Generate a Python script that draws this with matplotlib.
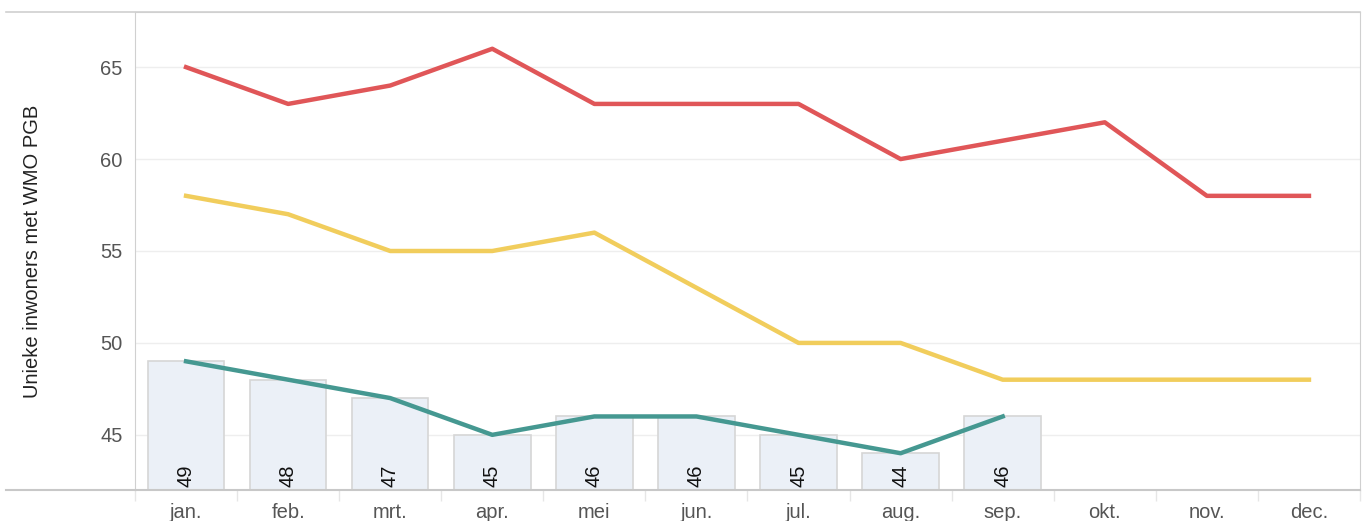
import numpy as np
import matplotlib.pyplot as plt
from matplotlib.lines import Line2D

plt.rcParams['font.family'] = ['Liberation Sans', 'DejaVu Sans']

months = ['jan.', 'feb.', 'mrt.', 'apr.', 'mei', 'jun.', 'jul.', 'aug.', 'sep.', 'okt.', 'nov.', 'dec.']
red_vals = [65, 63, 64, 66, 63, 63, 63, 60, 61, 62, 58, 58]
yellow_vals = [58, 57, 55, 55, 56, 53, 50, 50, 48, 48, 48, 48]
teal_vals = [49, 48, 47, 45, 46, 46, 45, 44, 46]
bar_vals = [49, 48, 47, 45, 46, 46, 45, 44, 46]
yticks = [45, 50, 55, 60, 65]

fig = plt.figure(figsize=(13.65, 5.21), dpi=100)
ax = fig.add_axes([135 / 1365, 1 - 490 / 521, 1225 / 1365, 478 / 521])

x = np.arange(len(months))
xb = np.arange(len(bar_vals))
ax.bar(xb, bar_vals, width=0.75, color='#ebf0f7', edgecolor='#d6d6d6', linewidth=1.2, zorder=2)
for xi, v in zip(xb, bar_vals):
    ax.text(xi, 42.15, str(v), rotation=90, ha='center', va='bottom', fontsize=14.5, color='#111111', zorder=5)

ax.plot(x, red_vals, color='#e05658', lw=3.2, solid_joinstyle='round', zorder=3)
ax.plot(x, yellow_vals, color='#f1cd5c', lw=3.2, solid_joinstyle='round', zorder=3)
ax.plot(xb, teal_vals, color='#459891', lw=3.2, solid_joinstyle='round', zorder=4)

ax.set_xlim(-0.5, 11.5)
ax.set_ylim(42, 68)
ax.set_yticks(yticks)
ax.set_xticks(x)
ax.set_xticklabels(months)
ax.set_xticks(np.arange(-0.5, 12, 1), minor=True)
ax.tick_params(axis='x', which='major', length=0, pad=9, labelsize=14.5, labelcolor='#555555')
ax.tick_params(axis='x', which='minor', length=8, color='#e6e6e6', width=1)
ax.tick_params(axis='y', length=0, pad=9, labelsize=14.5, labelcolor='#555555')
ax.grid(axis='y', color='#eeeeee', lw=1, zorder=0)
ax.set_axisbelow(True)

for side in ['top', 'right', 'left']:
    ax.spines[side].set_color('#d0d0d0')
ax.spines['bottom'].set_visible(False)
ax.set_ylabel('Unieke inwoners met WMO PGB', fontsize=14.5, color='#222222', labelpad=42)

# outer frame lines extending to the left edge
fig.add_artist(Line2D([6 / 1365, 1360 / 1365], [1 - 12 / 521, 1 - 12 / 521], color='#d0d0d0', lw=1.2))
fig.add_artist(Line2D([6 / 1365, 1360 / 1365], [1 - 490 / 521, 1 - 490 / 521], color='#c8c8c8', lw=1.5))

fig.savefig('out.png', dpi=100)
